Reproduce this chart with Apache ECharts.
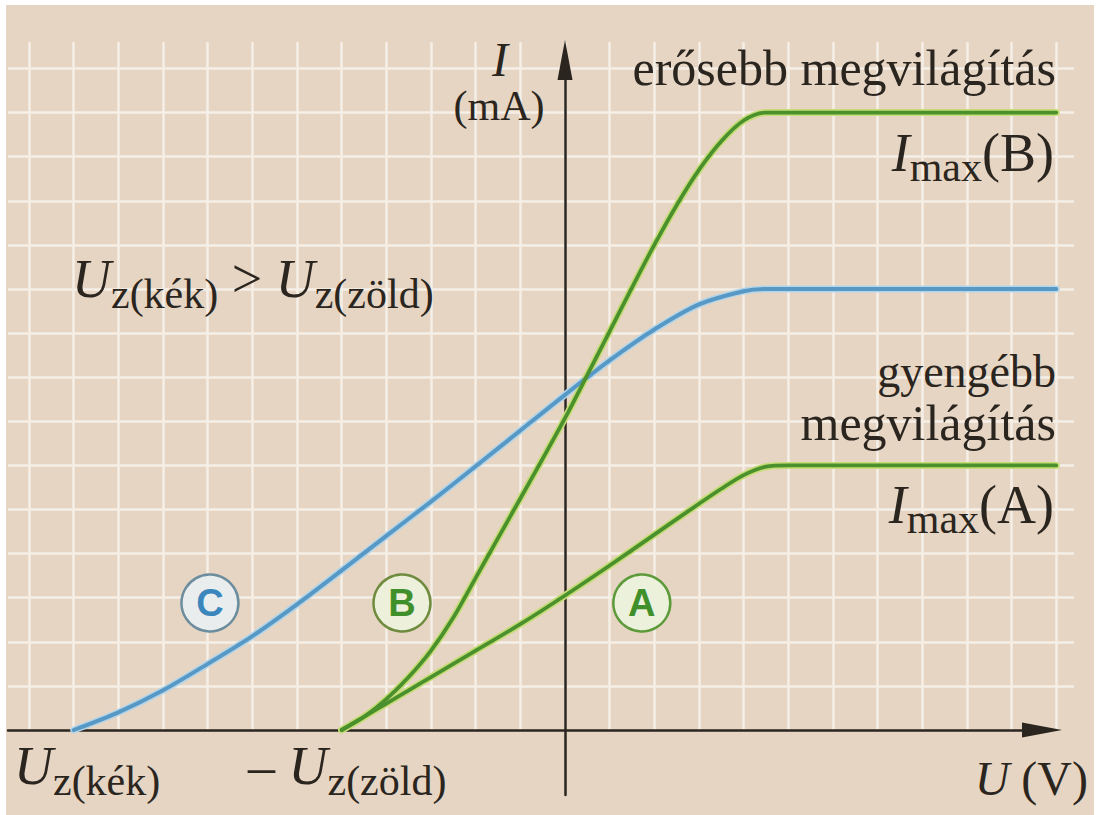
<!DOCTYPE html>
<html>
<head>
<meta charset="utf-8">
<script src="https://cdn.jsdelivr.net/npm/echarts@6/dist/echarts.min.js"></script>
<style>
html,body{margin:0;padding:0;background:#ffffff;}
#bg{position:absolute;left:6px;top:5px;width:1088px;height:810px;background:#e6d5c2;}
#chart{position:absolute;left:0;top:0;width:1100px;height:815px;}
</style>
</head>
<body>
<div id="bg"></div>
<div id="chart"></div>
<script>
// ---- data (grid units: U to the right of the I axis, I above the U axis) ----
const curveC_U = [-11, -10, -9, -8, -7, -6, -5, -4, -3, -2, -1, 0, 1, 2, 3, 4, 4.5, 5, 11];
const curveC_I = [0, 0.4, 0.9, 1.5, 2.13, 2.85, 3.62, 4.4, 5.18, 5.98, 6.79, 7.6, 8.38, 9.08, 9.65, 9.95, 10, 10, 10];

const curveB_U = [-5, -4.5, -4, -3.5, -3, -2.5, -2, -1.5, -1, -0.5, 0, 0.5, 1, 1.5, 2, 2.5, 3, 3.5, 4, 4.5, 5, 11];
const curveB_I = [0, 0.3, 0.7, 1.2, 1.8, 2.55, 3.45, 4.35, 5.25, 6.15, 7.07, 8.05, 9.04, 10.03, 11.0, 11.9, 12.7, 13.35, 13.82, 14, 14, 14];

const curveA_U = [-5, -4.5, -4, -3.5, -3, -2, -1, 0, 1, 2, 3, 3.5, 4, 4.5, 5, 11];
const curveA_I = [0, 0.3, 0.6, 0.9, 1.2, 1.8, 2.4, 3.05, 3.73, 4.43, 5.13, 5.47, 5.78, 5.97, 6, 6];

const markerNames = ['C', 'B', 'A'];
const markerU = [-7.95, -3.65, 1.72];
const markerI = [2.88, 2.88, 2.88];

const uRange = [-12, 11];
const iRange = [0, 15.6];

// ---- layout / style constants ----
const ORIGIN_X = 565, CELL_X = 44.66, AXIS_Y = 730, TOP_Y = 42;
const INK = '#2b2520';
const RULE = '#f6efe7';
const SERIF = '"Liberation Serif", "Times New Roman", serif';
const SANS = '"Liberation Sans", Arial, sans-serif';
const BASE_K = 0.09;   // distance from text box bottom to baseline, in em

const markerStyle = {
  C: {fill: '#e9edee', border: '#6c8d9e', text: '#3b87bd'},
  B: {fill: '#edf0da', border: '#6e8b3e', text: '#3f8f2b'},
  A: {fill: '#ecf1dc', border: '#5c9a3a', text: '#3f8f2b'}
};

const chart = echarts.init(document.getElementById('chart'), null, {renderer: 'svg', width: 1100, height: 815});

function lineSeries(u, i, color, width, z) {
  return {
    type: 'line', xAxisIndex: 1, yAxisIndex: 1,
    data: u.map((x, k) => [x, i[k]]),
    smooth: 0.3, symbol: 'none', silent: true, z: z,
    lineStyle: {color: color, width: width, cap: 'round', join: 'round'}
  };
}

// text helpers: place by baseline
function plainText(x, baseline, text, align, fs, italic) {
  return {
    type: 'text', z: 100,
    style: {
      text: text, x: x, y: baseline + BASE_K * fs, align: align, verticalAlign: 'bottom',
      fontFamily: SERIF, fontSize: fs, fontStyle: italic ? 'italic' : 'normal', fill: INK
    }
  };
}
function richText(x, baseline, text, align, fs, sub, drop) {
  const padB = drop - BASE_K * (fs - sub);
  const rich = {
    U: {fontFamily: SERIF, fontSize: fs, fontStyle: 'italic', fill: INK, verticalAlign: 'bottom', padding: [0, 0, padB, 0]},
    t: {fontFamily: SERIF, fontSize: fs, fill: INK, verticalAlign: 'bottom', padding: [0, 0, padB, 0]},
    s: {fontFamily: SERIF, fontSize: sub, fill: INK, verticalAlign: 'bottom'}
  };
  return {
    type: 'text', z: 100,
    style: {
      text: text, x: x, y: baseline + padB + BASE_K * fs, align: align, verticalAlign: 'bottom',
      fontFamily: SERIF, fontSize: fs, fill: INK, rich: rich
    }
  };
}

const axisHidden = {axisLine: {show: false}, axisTick: {show: false}, axisLabel: {show: false}};

const option = {
  animation: false,
  backgroundColor: 'transparent',
  grid: [
    {left: 8, right: 26, top: TOP_Y, bottom: 815 - AXIS_Y, outerBoundsMode: 'none'},
    {left: ORIGIN_X + uRange[0] * CELL_X, right: 1100 - (ORIGIN_X + uRange[1] * CELL_X), top: TOP_Y, bottom: 815 - AXIS_Y, outerBoundsMode: 'none'},
    {left: 8, right: 58, top: TOP_Y, bottom: 815 - AXIS_Y, outerBoundsMode: 'none'},
    {left: ORIGIN_X, right: 1100 - ORIGIN_X - 1, top: 60, bottom: 20, outerBoundsMode: 'none'}
  ],
  xAxis: [
    Object.assign({gridIndex: 0, type: 'value', min: 0, max: 1, splitLine: {show: false}}, axisHidden),
    Object.assign({gridIndex: 1, type: 'value', min: uRange[0], max: uRange[1], interval: 1,
      splitLine: {show: true, showMinLine: true, showMaxLine: true, lineStyle: {color: RULE, width: 2.5}}}, axisHidden),
    {gridIndex: 2, type: 'value', min: 0, max: 1, position: 'bottom',
      axisLine: {show: true, onZero: false, symbol: ['none', 'triangle'], symbolSize: [15, 40], lineStyle: {color: INK, width: 2.5}},
      axisTick: {show: false}, axisLabel: {show: false}, splitLine: {show: false}},
    {gridIndex: 3, type: 'value', min: 0, max: 1, show: false}
  ],
  yAxis: [
    Object.assign({gridIndex: 0, type: 'value', min: iRange[0], max: iRange[1], interval: 1,
      splitLine: {show: true, showMinLine: false, showMaxLine: false, lineStyle: {color: RULE, width: 2.5}}}, axisHidden),
    {gridIndex: 1, type: 'value', min: iRange[0], max: iRange[1], show: false},
    {gridIndex: 2, type: 'value', min: 0, max: 1, show: false},
    {gridIndex: 3, type: 'value', min: 0, max: 1, position: 'left',
      axisLine: {show: true, onZero: false, symbol: ['none', 'triangle'], symbolSize: [15, 40], lineStyle: {color: INK, width: 2.5}},
      axisTick: {show: false}, axisLabel: {show: false}, splitLine: {show: false}}
  ],
  series: [
    lineSeries(curveC_U, curveC_I, '#b3d5ea', 7, 2),
    lineSeries(curveC_U, curveC_I, '#5798c4', 4, 3),
    lineSeries(curveA_U, curveA_I, '#c6dc76', 7, 2),
    lineSeries(curveA_U, curveA_I, '#4a912d', 3.8, 3),
    lineSeries(curveB_U, curveB_I, '#c6dc76', 7, 2),
    lineSeries(curveB_U, curveB_I, '#4a912d', 3.8, 3),
    {
      type: 'scatter', xAxisIndex: 1, yAxisIndex: 1, symbol: 'circle', symbolSize: 57, z: 5, silent: true,
      data: markerNames.map((n, k) => ({
        name: n, value: [markerU[k], markerI[k]],
        itemStyle: {color: markerStyle[n].fill, borderColor: markerStyle[n].border, borderWidth: 2.5, opacity: 1},
        label: {color: markerStyle[n].text}
      })),
      label: {show: true, position: 'inside', formatter: p => p.name, fontFamily: SANS, fontWeight: 'bold', fontSize: 38}
    }
  ],
  graphic: [
    plainText(500, 79, 'I', 'center', 48, true),
    plainText(499, 123, '(mA)', 'center', 42, false),
    plainText(1056, 88, 'erősebb megvilágítás', 'right', 50, false),
    richText(1054, 175, '{U|I}{s|max}{t|(B)}', 'right', 54, 42, 9),
    plainText(1056, 390, 'gyengébb', 'right', 46, false),
    plainText(1056, 443, 'megvilágítás', 'right', 50, false),
    richText(1054, 527, '{U|I}{s|max}{t|(A)}', 'right', 54, 42, 9),
    richText(72, 301, '{U|U}{s|z(kék)}{t| > }{U|U}{s|z(zöld)}', 'left', 54, 42, 10),
    richText(14, 788, '{U|U}{s|z(kék)}', 'left', 54, 42, 10),
    richText(248, 788, '{t|– }{U|U}{s|z(zöld)}', 'left', 54, 42, 10),
    richText(1088, 798, '{U|U}{t| (V)}', 'right', 48, 48, 0)
  ]
};
chart.setOption(option);
</script>
</body>
</html>
